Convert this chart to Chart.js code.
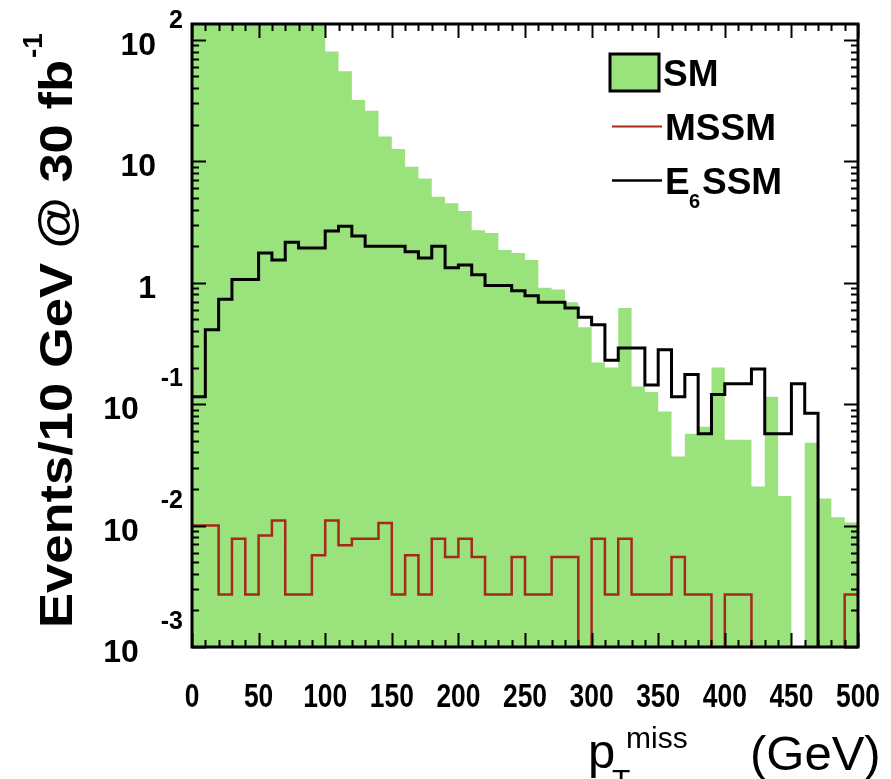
<!DOCTYPE html>
<html>
<head>
<meta charset="utf-8">
<script src="https://cdn.jsdelivr.net/npm/chart.js@4.4.1/dist/chart.umd.min.js"></script>
<style>
  html, body { margin: 0; padding: 0; background: #fff; }
  canvas { display: block; }
</style>
</head>
<body>
<canvas id="chart" width="891" height="779"></canvas>
<script>
// lower edges of the 10 GeV bins
const binLow = [0, 10, 20, 30, 40, 50, 60, 70, 80, 90,
  100, 110, 120, 130, 140, 150, 160, 170, 180, 190,
  200, 210, 220, 230, 240, 250, 260, 270, 280, 290,
  300, 310, 320, 330, 340, 350, 360, 370, 380, 390,
  400, 410, 420, 430, 440, 450, 460, 470, 480, 490];
const xMax = 500;

// events / 10 GeV (0 = empty bin)
const smValues = [400, 900, 1200, 1100, 900, 700, 500, 350, 250, 180,
  80, 55, 32, 26, 16, 12.6, 9, 7.2, 5.1, 4.5,
  3.9, 2.7, 2.56, 1.86, 1.76, 1.54, 0.91, 0.88, 0.69, 0.43,
  0.22, 0.20, 0.62, 0.14, 0.126, 0.087, 0.037, 0.057, 0.065, 0.20,
  0.051, 0.051, 0.021, 0.115, 0.0175, 0, 0.048, 0.0167, 0.0117, 0.0106];

const mssmValues = [0.01, 0.01, 0.0027, 0.0078, 0.0027, 0.0083, 0.011, 0.0027, 0.0027, 0.0057,
  0.011, 0.0069, 0.0078, 0.0078, 0.0105, 0.0027, 0.0057, 0.0027, 0.0078, 0.0055,
  0.0078, 0.0055, 0.0027, 0.0027, 0.0055, 0.0027, 0.0027, 0.0055, 0.0055, 0,
  0.0078, 0.0027, 0.0078, 0.0027, 0.0027, 0.0027, 0.0055, 0.0027, 0.0027, 0,
  0.0027, 0.0027, 0, 0, 0, 0, 0, 0, 0, 0.0027];

const e6Values = [0.115, 0.41, 0.73, 1.06, 1.06, 1.76, 1.54, 2.15, 1.93, 1.93,
  2.66, 2.92, 2.42, 2.0, 2.0, 2.0, 1.8, 1.6, 2.0, 1.33,
  1.40, 1.16, 0.95, 0.95, 0.86, 0.78, 0.69, 0.69, 0.62, 0.52,
  0.45, 0.23, 0.29, 0.29, 0.144, 0.28, 0.115, 0.175, 0.057, 0.12,
  0.147, 0.147, 0.195, 0.057, 0.057, 0.147, 0.084, 0, 0, 0];

const xTicks = [0, 50, 100, 150, 200, 250, 300, 350, 400, 450, 500];
const yTicks = [1e-3, 1e-2, 1e-1, 1, 10, 100];
const yTickBase = ['10', '10', '10', '1', '10', '10'];
const yTickExp = ['-3', '-2', '-1', '', '', '2'];

const yMin = 1e-3, yMax = 135;
const FLOOR = 1e-6; // empty bins fall below the axis

const GREEN = '#9ae27c';
const RED = '#a8281c';

function steps(values) {
  const pts = binLow.map((x, i) => ({ x: x, y: values[i] > 0 ? values[i] : FLOOR }));
  pts.push({ x: xMax, y: pts[pts.length - 1].y });
  return pts;
}

const FONT = '"Liberation Sans", Arial, sans-serif';

const decorations = {
  id: 'decorations',
  afterDatasetsDraw(chart) {
    const { ctx, chartArea: a, scales: { x, y } } = chart;
    ctx.save();
    ctx.strokeStyle = '#000';
    ctx.lineCap = 'butt';

    // tick marks, inside the frame on all four sides
    ctx.lineWidth = 2;
    const seg = (x1, y1, x2, y2) => { ctx.beginPath(); ctx.moveTo(x1, y1); ctx.lineTo(x2, y2); ctx.stroke(); };
    binLow.concat([xMax]).forEach(v => {
      const px = Math.round(x.getPixelForValue(v)) + 0.5;
      const len = xTicks.includes(v) ? 14 : 7;
      seg(px, a.bottom, px, a.bottom - len);
      seg(px, a.top, px, a.top + len);
    });
    for (let d = -3; d <= 2; d++) {
      for (let m = 1; m <= 9; m++) {
        const v = m * Math.pow(10, d);
        if (v < yMin || v > yMax) continue;
        const py = Math.round(y.getPixelForValue(v)) + 0.5;
        const len = m === 1 ? 14 : 7;
        seg(a.left, py, a.left + len, py);
        seg(a.right, py, a.right - len, py);
      }
    }

    // frame
    ctx.lineWidth = 3;
    ctx.strokeRect(a.left, a.top, a.right - a.left, a.bottom - a.top);

    ctx.fillStyle = '#000';

    // x tick labels
    ctx.textAlign = 'center';
    ctx.textBaseline = 'alphabetic';
    ctx.font = 'bold 33px ' + FONT;
    xTicks.forEach(v => {
      const px = x.getPixelForValue(v);
      ctx.save();
      ctx.translate(px, 707);
      ctx.scale(0.8, 1);
      ctx.fillText(String(v), 0, 0);
      ctx.restore();
    });

    // y tick labels with exponents
    yTicks.forEach((v, i) => {
      const py = y.getPixelForValue(v);
      const exp = yTickExp[i];
      let right = 156;
      if (exp) {
        ctx.font = 'bold 25px ' + FONT;
        ctx.textAlign = 'right';
        ctx.fillText(exp, 183, exp.length === 1 ? py - 12 : py - 18);
        if (exp.length > 1) right = 183 - ctx.measureText(exp).width - 22;
      }
      ctx.font = 'bold 32px ' + FONT;
      ctx.textAlign = 'right';
      ctx.fillText(yTickBase[i], right, py + 15);
    });

    // y axis title
    ctx.save();
    ctx.translate(72, 628);
    ctx.rotate(-Math.PI / 2);
    ctx.font = 'bold 46px ' + FONT;
    ctx.textAlign = 'left';
    const main = 'Events/10 GeV @ 30 fb';
    const w = ctx.measureText(main).width;
    const sx = 568 / w;
    ctx.save();
    ctx.scale(sx, 1);
    ctx.fillText(main, 0, 0);
    ctx.restore();
    ctx.font = 'bold 28px ' + FONT;
    ctx.fillText('-1', 568 + 2, -30);
    ctx.restore();

    // x axis title
    ctx.textAlign = 'left';
    ctx.font = '49px ' + FONT;
    ctx.fillText('p', 588, 768);
    ctx.font = '30px ' + FONT;
    ctx.fillText('T', 612, 790);
    ctx.fillText('miss', 626, 748);
    ctx.font = '49px ' + FONT;
    ctx.fillText('(GeV)', 750, 770);

    // legend
    ctx.fillStyle = GREEN;
    ctx.fillRect(610, 54, 49, 37);
    ctx.lineWidth = 3;
    ctx.strokeStyle = '#000';
    ctx.strokeRect(610, 54, 49, 37);
    ctx.lineWidth = 2;
    ctx.strokeStyle = RED;
    seg(612, 126.5, 662, 126.5);
    ctx.lineWidth = 2.5;
    ctx.strokeStyle = '#000';
    seg(612, 180.5, 662, 180.5);

    ctx.fillStyle = '#000';
    ctx.font = 'bold 37px ' + FONT;
    ctx.fillText('SM', 663, 86);
    ctx.fillText('MSSM', 665, 140);
    ctx.fillText('E', 665, 194);
    ctx.font = 'bold 20px ' + FONT;
    ctx.fillText('6', 689, 208);
    ctx.font = 'bold 37px ' + FONT;
    ctx.fillText('SSM', 702, 194);

    ctx.restore();
  }
};

new Chart(document.getElementById('chart'), {
  type: 'line',
  data: {
    datasets: [
      {
        label: 'E6SSM',
        data: steps(e6Values),
        stepped: 'before',
        borderColor: '#000',
        borderWidth: 3,
        pointRadius: 0,
        fill: false,
        clip: 0,
        order: 0
      },
      {
        label: 'MSSM',
        data: steps(mssmValues),
        stepped: 'before',
        borderColor: RED,
        borderWidth: 2.5,
        pointRadius: 0,
        fill: false,
        clip: 0,
        order: 1
      },
      {
        label: 'SM',
        data: steps(smValues),
        stepped: 'before',
        borderColor: 'rgba(0,0,0,0)',
        borderWidth: 0,
        backgroundColor: GREEN,
        pointRadius: 0,
        fill: 'start',
        clip: 0,
        order: 2
      }
    ]
  },
  options: {
    responsive: false,
    animation: false,
    events: [],
    layout: { padding: { left: 192, right: 33, top: 24, bottom: 132 } },
    plugins: { legend: { display: false }, tooltip: { enabled: false } },
    scales: {
      x: { type: 'linear', min: 0, max: xMax, display: false },
      y: { type: 'logarithmic', min: yMin, max: yMax, display: false }
    }
  },
  plugins: [decorations]
});
</script>
</body>
</html>
